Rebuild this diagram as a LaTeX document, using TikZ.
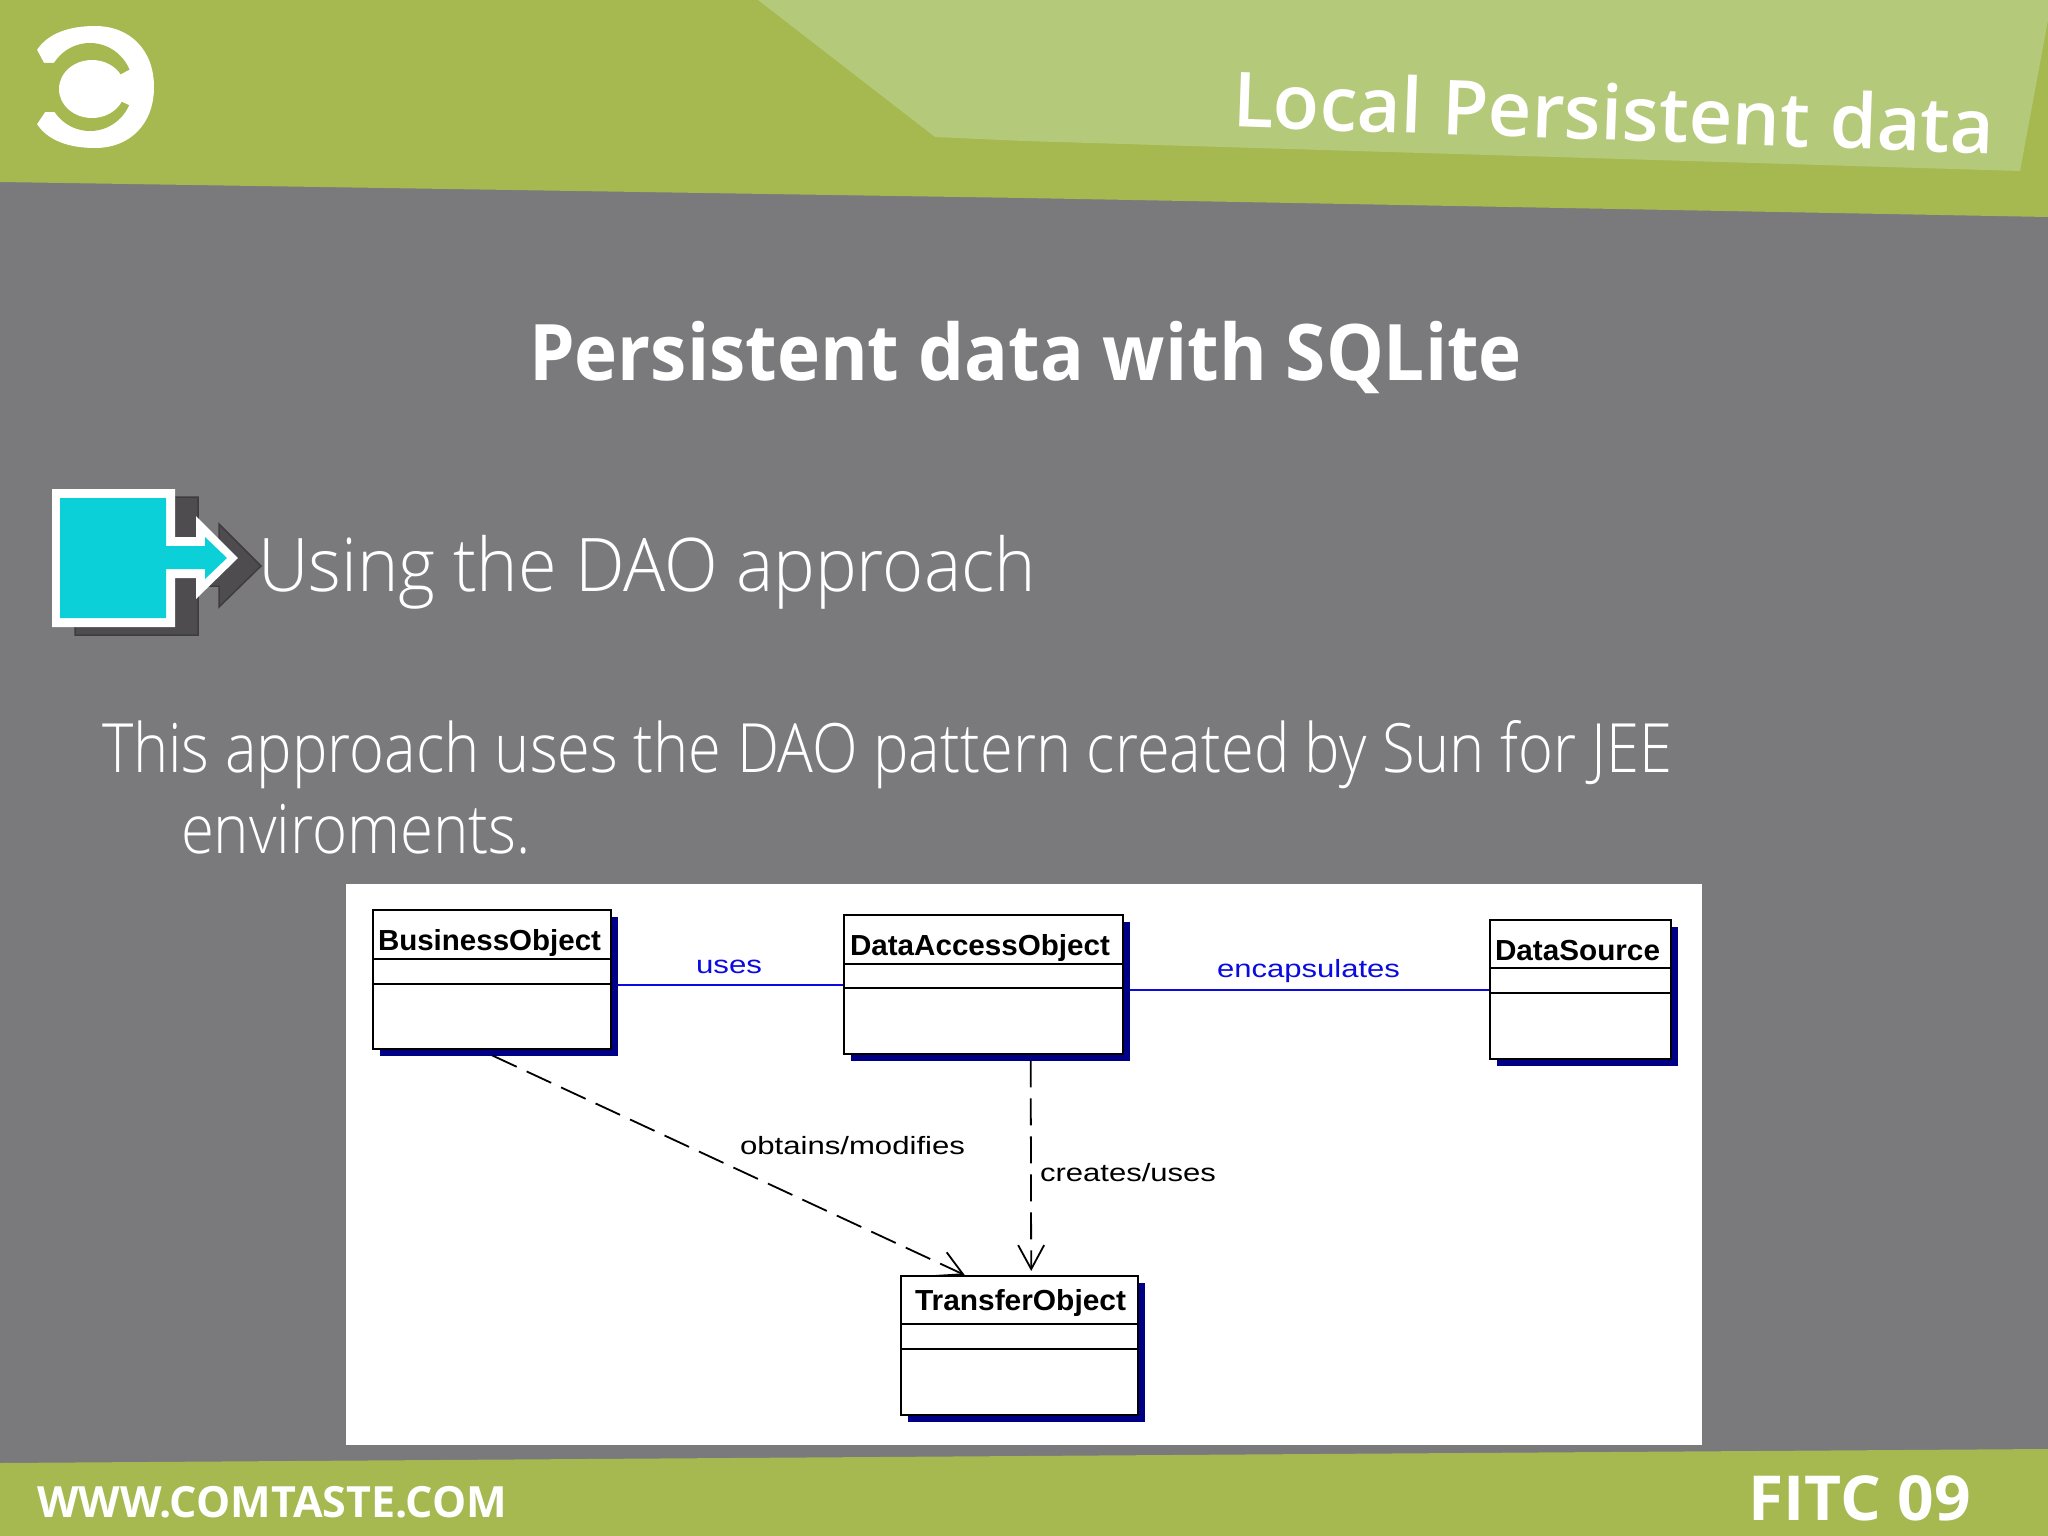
\documentclass[tikz,border=0pt]{standalone}
\usepackage{graphicx}
\usepackage{fontspec}
\setmainfont{Open Sans}
\newfontfamily\lightfont{Open Sans Light}
\newfontfamily\semifont{Open Sans Semibold}
\newfontfamily\umlfont{Liberation Sans}
\usetikzlibrary{arrows.meta,shadows}
\definecolor{slidegray}{RGB}{122,121,124}
\definecolor{bandgreen}{RGB}{165,185,80}
\definecolor{lightgreen}{RGB}{181,201,122}
\definecolor{bulletcyan}{RGB}{12,208,216}
\definecolor{bulletshadow}{RGB}{78,76,79}
\definecolor{bulletedge}{RGB}{62,60,63}
\definecolor{umlnavy}{RGB}{0,0,135}
\definecolor{umlblue}{RGB}{10,10,225}
\newcommand{\fitw}[2]{\resizebox{#1pt}{\height}{#2}}
\newcommand{\fsz}[1]{\fontsize{#1pt}{#1pt}\selectfont}
\tikzset{
  x=1pt,y=-1pt,
  txt/.style={inner sep=0pt,outer sep=0pt,anchor=base west,text=white},
  umlbox/.style={draw=black,line width=2.4pt,fill=white,rectangle,inner sep=0pt,anchor=north west,
    drop shadow={shadow xshift=6.5pt,shadow yshift=-6.5pt,fill=umlnavy,opacity=1}},
  umltitle/.style={inner sep=0pt,outer sep=0pt,anchor=base west,text=black},
  umllabel/.style={inner sep=0pt,outer sep=0pt,anchor=base west},
  divider/.style={draw=black,line width=2.4pt},
  assoc/.style={draw=umlblue,line width=2pt},
  depend/.style={draw=black,line width=1.8pt,dash pattern=on 27pt off 11pt,
    -{Straight Barb[length=24pt,width=26pt,line width=1.8pt]}},
}
\begin{document}
\begin{tikzpicture}
\useasboundingbox (0,0) rectangle (2048,1536);
\fill[slidegray] (0,0) rectangle (2048,1536);
% header band
\fill[bandgreen] (0,0) -- (2048,0) -- (2048,217) -- (1024,198) -- (0,182) -- cycle;
\fill[lightgreen] (758,0) -- (935,137) -- (1024,141) -- (2020,171) -- (2048,20) -- (2048,0) -- cycle;
% logo
\fill[white] (37,50) .. controls (48,33) and (70,26) .. (95,26)
  .. controls (130,26) and (154,50) .. (154,87)
  .. controls (154,124) and (130,148) .. (95,148)
  .. controls (70,148) and (48,141) .. (37,124) -- cycle;
\fill[bandgreen] (90,87) ellipse [x radius=43,y radius=44];
\fill[bandgreen] (30,50) -- (37,50) -- (44,63) -- (60,63) -- (60,112) -- (45,112) -- (37,124) -- (30,124) -- cycle;
\fill[white] (92,89) ellipse [x radius=33,y radius=29];
\fill[white] (116,77) -- (129,70) -- (145,70) -- (145,105) -- (129,105) -- (116,99) -- cycle;
% footer band
\fill[bandgreen] (0,1463) -- (2048,1449) -- (2048,1536) -- (0,1536) -- cycle;
% slide texts
\node[txt,rotate=-2,font=\semifont\fsz{76}] (head) at (1232,127) {\fitw{762}{Local Persistent data}};
\node[txt,font=\bfseries\fsz{78}] (title) at (529,380) {\fitw{993}{Persistent data with SQLite}};
\node[txt,font=\lightfont\fsz{74}] (bullet) at (258,591) {\fitw{778}{Using the DAO approach}};
\node[txt,font=\lightfont\fsz{68}] (line one) at (102,772) {\fitw{1570}{This approach uses the DAO pattern created by Sun for JEE}};
\node[txt,font=\lightfont\fsz{68}] (line two) at (181,853) {\fitw{350}{enviroments.}};
\node[txt,font=\bfseries\fsz{43}] (site) at (37,1517) {\fitw{470}{WWW.COMTASTE.COM}};
\node[txt,font=\bfseries\fsz{62}] (fitc) at (1748,1520) {\fitw{223}{FITC 09}};
% bullet
\path[fill=bulletshadow,draw=bulletedge,line width=1.5pt,shift={(23,8)}]
  (52,489) -- (175,489) -- (175,537) -- (196,537) -- (196,516) -- (238,558) -- (196,599) -- (196,578) -- (175,578) -- (175,627) -- (52,627) -- cycle;
\fill[white] (52,489) -- (175,489) -- (175,537) -- (196,537) -- (196,516) -- (238,558) -- (196,599) -- (196,578) -- (175,578) -- (175,627) -- (52,627) -- cycle;
\fill[bulletcyan] (60,498) -- (166,498) -- (166,546) -- (205,546) -- (205,537) -- (227,558) -- (205,579) -- (205,569) -- (166,569) -- (166,618) -- (60,618) -- cycle;
% UML image
\fill[white] (346,884) rectangle (1702,1445);
\node[umlbox,minimum width=238pt,minimum height=139pt] (bo) at (372,909) {};
\node[umlbox,minimum width=279pt,minimum height=139pt] (dao) at (843,914) {};
\node[umlbox,minimum width=181pt,minimum height=139pt] (ds) at (1489,919) {};
\node[umlbox,minimum width=237pt,minimum height=139pt] (to) at (900,1275) {};
\draw[divider] ([yshift=-50pt]bo.north west) -- ([yshift=-50pt]bo.north east);
\draw[divider] ([yshift=-75pt]bo.north west) -- ([yshift=-75pt]bo.north east);
\draw[divider] ([yshift=-50pt]dao.north west) -- ([yshift=-50pt]dao.north east);
\draw[divider] ([yshift=-74pt]dao.north west) -- ([yshift=-74pt]dao.north east);
\draw[divider] ([yshift=-49pt]ds.north west) -- ([yshift=-49pt]ds.north east);
\draw[divider] ([yshift=-74pt]ds.north west) -- ([yshift=-74pt]ds.north east);
\draw[divider] ([yshift=-49pt]to.north west) -- ([yshift=-49pt]to.north east);
\draw[divider] ([yshift=-74pt]to.north west) -- ([yshift=-74pt]to.north east);
\node[umltitle,font=\umlfont\bfseries\fsz{29}] (bo title) at (378,950) {\fitw{223}{BusinessObject}};
\node[umltitle,font=\umlfont\bfseries\fsz{29}] (dao title) at (850,955) {\fitw{260}{DataAccessObject}};
\node[umltitle,font=\umlfont\bfseries\fsz{29}] (ds title) at (1495,960) {\fitw{165}{DataSource}};
\node[umltitle,font=\umlfont\bfseries\fsz{29}] (to title) at (915,1310) {\fitw{211}{TransferObject}};
% connectors
\draw[assoc] ([xshift=6pt]bo.east |- dao.west) -- (dao.west);
\draw[assoc] ([xshift=6pt]dao.east |- ds.west) -- (ds.west);
\draw[depend] ([yshift=-5pt]bo.south) -- ([xshift=-55pt]to.north);
\draw[depend] ([xshift=47pt,yshift=-5pt]dao.south) -- ([xshift=11.5pt,yshift=4pt]to.north);
% labels
\node[umllabel,text=umlblue,font=\umlfont\fsz{25}] (uses) at (696,973) {\fitw{66}{uses}};
\node[umllabel,text=umlblue,font=\umlfont\fsz{25}] (enc) at (1217,977) {\fitw{183}{encapsulates}};
\node[umllabel,text=black,font=\umlfont\fsz{25}] (obt) at (740,1154) {\fitw{225}{obtains/modifies}};
\node[umllabel,text=black,font=\umlfont\fsz{25}] (cre) at (1040,1181) {\fitw{176}{creates/uses}};
\end{tikzpicture}
\end{document}
